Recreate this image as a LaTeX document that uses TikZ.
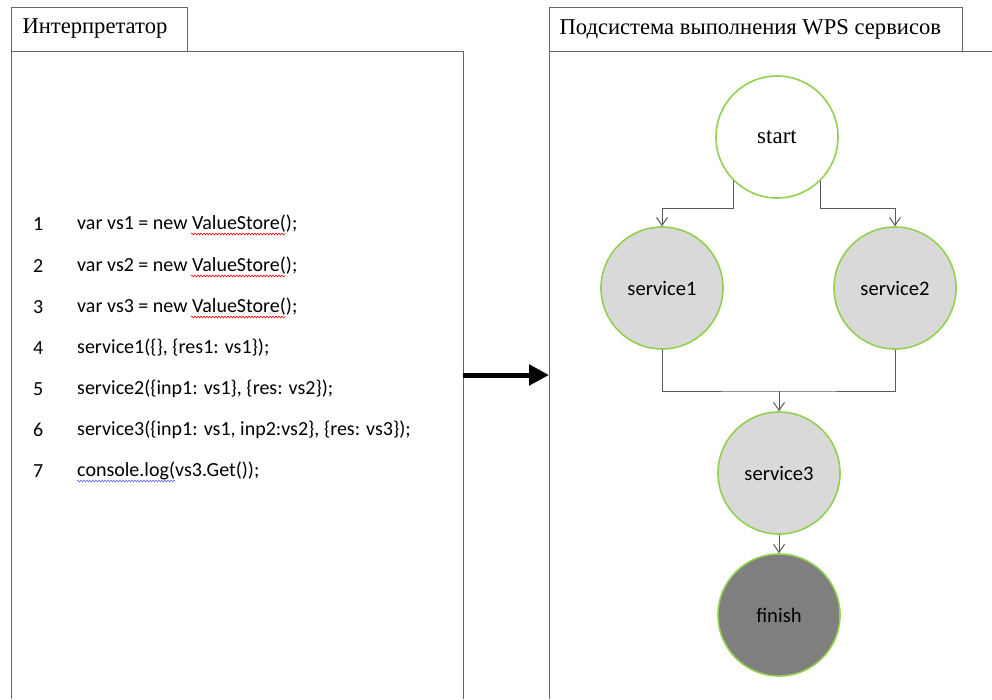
\documentclass[tikz,border=0pt]{standalone}
\usepackage{fontspec}
\setmainfont{Liberation Serif}
\newfontfamily\calibri{Carlito}
\usetikzlibrary{arrows.meta,decorations.pathmorphing}
\definecolor{ringgreen}{HTML}{92D050}
\definecolor{svcgray}{HTML}{D9D9D9}
\definecolor{fingray}{HTML}{7F7F7F}
\definecolor{linegray}{HTML}{595959}
\begin{document}
\begin{tikzpicture}[x=1pt, y=-1pt,
	panel/.style={draw=black!60, line width=1pt},
	title/.style={anchor=west, font=\fontsize{22.6}{27}\selectfont},
	codeline/.style={anchor=west, inner sep=0pt, font=\calibri\fontsize{20}{24}\selectfont},
	state/.style={circle, draw=ringgreen, line width=1.6pt, minimum size=122pt, inner sep=0pt, font=\calibri\fontsize{20.6}{24}\selectfont},
	flow/.style={draw=linegray, line width=1pt, -{Straight Barb[length=8pt, width=11pt]}},
	squiggle/.style={line width=0.6pt, decorate, decoration={snake, amplitude=0.9pt, segment length=3pt}}]

	\useasboundingbox (0,0) rectangle (992,699);

	\draw[panel] (11,7) rectangle (187,51);
	\draw[panel] (11,699) -- (11,51) -- (463,51) -- (463,699);
	\node[title] (lefttitle) at (19,29) {Интерпретатор};

	\draw[panel] (549,7) rectangle (962,51);
	\draw[panel] (549,699) -- (549,51) -- (992,51);
	\node[title] (righttitle) at (556,29) {Подсистема выполнения WPS сервисов};

	\node[codeline] (n1) at (33,224) {1};
	\node[codeline] (n2) at (33,266) {2};
	\node[codeline] (n3) at (33,307) {3};
	\node[codeline] (n4) at (33,348) {4};
	\node[codeline] (n5) at (33,389) {5};
	\node[codeline] (n6) at (33,430) {6};
	\node[codeline] (n7) at (33,471) {7};

	\node[codeline] (c1) at (77,224) {var vs1 = new ValueStore();};
	\node[codeline] (c2) at (77,266) {var vs2 = new ValueStore();};
	\node[codeline] (c3) at (77,307) {var vs3 = new ValueStore();};
	\node[codeline] (c4) at (77,348) {service1(\{\}, \{res1: vs1\});};
	\node[codeline] (c5) at (77,389) {service2(\{inp1: vs1\}, \{res: vs2\});};
	\node[codeline] (c6) at (77,430) {service3(\{inp1: vs1, inp2:vs2\}, \{res: vs3\});};
	\node[codeline] (c7) at (77,471) {console.log(vs3.Get());};

	\draw[red, squiggle] (191,234) -- (285,234);
	\draw[red, squiggle] (191,276) -- (285,276);
	\draw[red, squiggle] (191,317) -- (285,317);
	\draw[blue!60, squiggle] (77,481) -- (175,481);

	\coordinate (from) at (463,375);
	\coordinate (to) at (549,375);
	\draw[line width=5pt, -{Triangle[length=20pt, width=20pt]}] (from) -- (to);

	\node[state, fill=white, font=\fontsize{23}{27}\selectfont] (start) at (777,137) {start};
	\node[state, fill=svcgray] (s1) at (662,288) {service1};
	\node[state, fill=svcgray] (s2) at (895,288) {service2};
	\node[state, fill=svcgray] (s3) at (779,473) {service3};
	\node[state, fill=fingray] (finish) at (779,615) {finish};

	\coordinate (join) at (779,391);

	\draw[flow] (start.south west) -- (start.south west |- 0,208) -| (s1);
	\draw[flow] (start.south east) -- (start.south east |- 0,208) -| (s2);
	\draw[draw=linegray, line width=1pt] (s1.south) |- (join) -| (s2.south);
	\draw[flow] (join) -- (s3);
	\draw[flow] (s3) -- (finish);

\end{tikzpicture}
\end{document}
